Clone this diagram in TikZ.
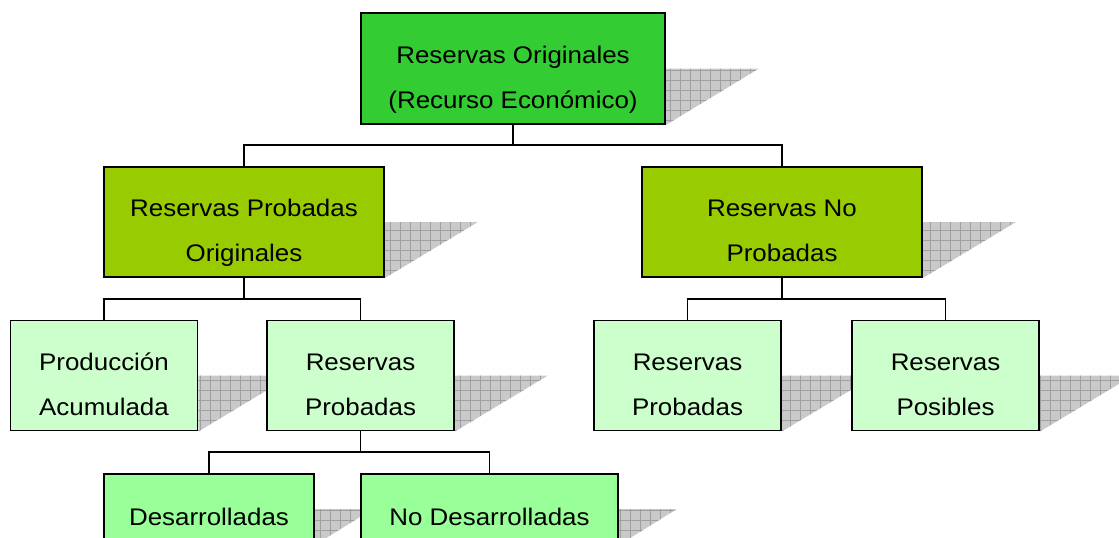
\documentclass[tikz,border=0pt]{standalone}
\usepackage{fontspec}
\usepackage{graphicx}
\newfontfamily\boxfont{Liberation Sans}
\usetikzlibrary{calc}
\definecolor{cTop}{HTML}{33CC33}
\definecolor{cMid}{HTML}{99CC00}
\definecolor{cLow}{HTML}{CCFFCC}
\definecolor{cLeaf}{HTML}{99FF99}
\newcommand\twolines[2]{\raisebox{3.9pt}[0pt][0pt]{\scalebox{1.08}[1]{\begin{tabular}[t]{@{}c@{}}#1\\#2\end{tabular}}}}
\newcommand\oneline[1]{\raisebox{-12pt}[0pt][0pt]{\scalebox{1.08}[1]{#1}}}
\newcommand\shadowtri[2]{%
  \begin{scope}
    \clip (#1.south east) -- (#1.east) -- ($(#1.east)+(#2,0)$) -- cycle;
    \fill[shadowfill] ($(#1.east)+(-1,-1)$) rectangle ($(#1.south east)+(#2,1)$);
    \draw[shadowgrid] ($(#1.east)+(-1,-1)$) grid ($(#1.south east)+(#2,1)$);
  \end{scope}}
\begin{document}
\begin{tikzpicture}[x=0.75pt,y=-0.75pt,
  box/.style={draw=black, line width=1.4pt, rectangle, inner sep=0pt,
    font=\boxfont\fontsize{18pt}{33.6pt}\selectfont, text=black},
  topbox/.style={box, fill=cTop, minimum width=228pt, minimum height=83.25pt},
  midbox/.style={box, fill=cMid, minimum width=210pt, minimum height=82.5pt},
  lowbox/.style={box, fill=cLow, minimum width=140.25pt, minimum height=82.5pt},
  leafbox/.style={box, fill=cLeaf, minimum height=52.5pt},
  conn/.style={draw=black, line width=1.2pt},
  shadowfill/.style={fill=gray!42},
  shadowgrid/.style={draw=gray!75, line width=0.35pt, step=7.5pt}]
\clip (0,0) rectangle (1119,537);
\path
  node[topbox] (top) at (513,68.5) {}
  node[midbox] (l2l) at (244,222) {}
  node[midbox] (l2r) at (782,222) {}
  node[lowbox] (l3a) at (104,375.5) {}
  node[lowbox] (l3b) at (360.5,375.5) {}
  node[lowbox] (l3c) at (687.5,375.5) {}
  node[lowbox] (l3d) at (945.5,375.5) {}
  node[leafbox, minimum width=157.5pt] (l4a) at (209,509) {}
  node[leafbox, minimum width=192.75pt] (l4b) at (489.5,509) {};
% shadows
\shadowtri{top}{93}
\shadowtri{l2l}{93}
\shadowtri{l2r}{93}
\shadowtri{l3a}{93}
\shadowtri{l3b}{93}
\shadowtri{l3c}{93}
\shadowtri{l3d}{93}
\shadowtri{l4a}{58}
\shadowtri{l4b}{58}
% connectors
\coordinate (bus1) at (513,145);
\coordinate (bus2) at (244,299);
\coordinate (bus3) at (782,299);
\coordinate (bus4) at (360.5,452);
\draw[conn] (top.south) -- (bus1) -| (l2l.north);
\draw[conn] (bus1) -| (l2r.north);
\draw[conn] (l2l.south) -- (bus2) -| (l3a.north);
\draw[conn] (bus2) -| (l3b.north);
\draw[conn] (l2r.south) -- (bus3) -| (l3c.north);
\draw[conn] (bus3) -| (l3d.north);
\draw[conn] (l3b.south) -- (bus4) -| (l4a.north);
\draw[conn] (bus4) -| (l4b.north);
% boxes with text on top
\node[topbox] (topT) at (top) {\twolines{Reservas Originales}{(Recurso Económico)}};
\node[midbox] (l2lT) at (l2l) {\twolines{Reservas Probadas}{Originales}};
\node[midbox] (l2rT) at (l2r) {\twolines{Reservas No}{Probadas}};
\node[lowbox] (l3aT) at (l3a) {\twolines{Producción}{Acumulada}};
\node[lowbox] (l3bT) at (l3b) {\twolines{Reservas}{Probadas}};
\node[lowbox] (l3cT) at (l3c) {\twolines{Reservas}{Probadas}};
\node[lowbox] (l3dT) at (l3d) {\twolines{Reservas}{Posibles}};
\node[leafbox, minimum width=157.5pt] (l4aT) at (l4a) {\oneline{Desarrolladas}};
\node[leafbox, minimum width=192.75pt] (l4bT) at (l4b) {\oneline{No Desarrolladas}};
\end{tikzpicture}
\end{document}
